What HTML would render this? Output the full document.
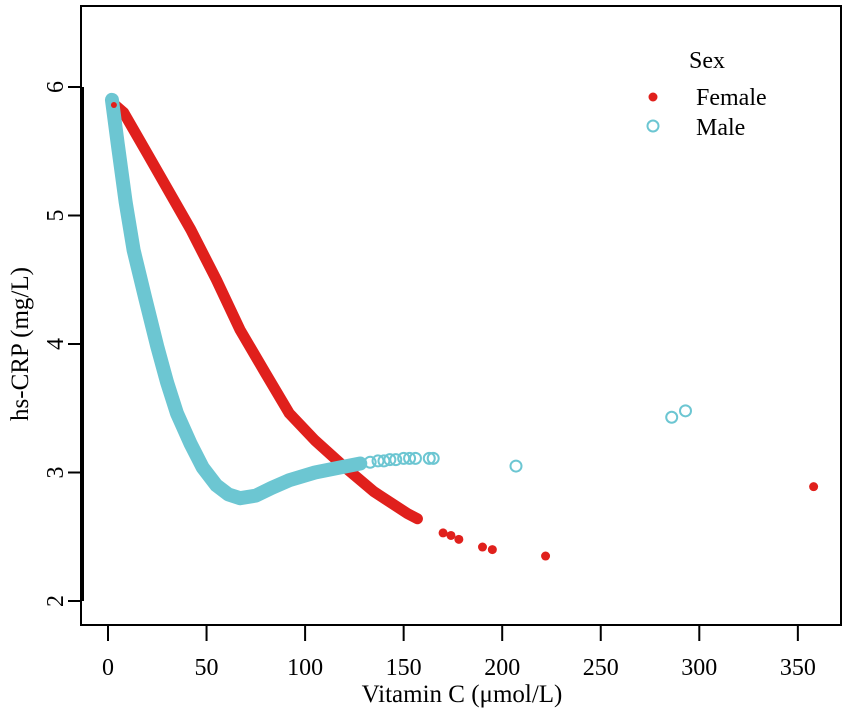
<!DOCTYPE html>
<html><head><meta charset="utf-8"><style>
body{margin:0;background:#fff;}
svg{display:block;font-family:"Liberation Serif",serif;}
</style></head><body>
<svg width="850" height="716" id="c"></svg>
<script>
const femaleDense=[[2,5.88],[8,5.8],[20,5.48],[42,4.89],[55,4.5],[67,4.11],[80,3.77],[92,3.46],[105,3.25],[118,3.07],[135,2.85],[152,2.68],[157,2.64]];
const femaleOut=[[170,2.53],[174,2.51],[178,2.48],[190,2.42],[195,2.40],[222,2.35],[358,2.89]];
const maleDense=[[2,5.9],[5,5.55],[9,5.1],[13,4.73],[19,4.35],[25,3.98],[30,3.7],[35,3.46],[42,3.22],[48,3.04],[55,2.9],[61,2.83],[67,2.8],[75,2.82],[83,2.88],[92,2.94],[105,3.0],[118,3.04],[128,3.07]];
const maleOut=[[133,3.08],[137,3.09],[140,3.09],[143,3.1],[146,3.1],[150,3.11],[153,3.11],[156,3.11],[163,3.11],[165,3.11],[207,3.05],[286,3.43],[293,3.48]];
const xTicks=[0,50,100,150,200,250,300,350];
const yTicks=[2,3,4,5,6];
const svg=document.getElementById('c');const NS='http://www.w3.org/2000/svg';
const X=v=>108+1.971*v, Y=v=>601-128.5*(v-2);
function mk(t,a,p){const e=document.createElementNS(NS,t);for(const k in a)e.setAttribute(k,a[k]);(p||svg).appendChild(e);return e;}
const box=mk('rect',{x:81,y:6,width:760,height:619,fill:'none',stroke:'#000','stroke-width':2});


const ya=mk('line',{x1:82,y1:Y(2),x2:82,y2:Y(6),stroke:'#000','stroke-width':4});


yTicks.forEach(t=>{mk('line',{x1:68,x2:82,y1:Y(t),y2:Y(t),stroke:'#000','stroke-width':2});
const tx=mk('text',{x:0,y:0,'font-size':24,'text-anchor':'middle','dominant-baseline':'central',transform:`translate(56,${Y(t)}) rotate(-90)`});tx.textContent=t;

});
xTicks.forEach(t=>{mk('line',{x1:X(t),x2:X(t),y1:625,y2:641,stroke:'#000','stroke-width':2});
const tx=mk('text',{x:X(t),y:675,'font-size':24,'text-anchor':'middle'});tx.textContent=t;

});
const xt=mk('text',{x:462,y:702,'font-size':25,'text-anchor':'middle'});xt.textContent='Vitamin C (μmol/L)';


const yt=mk('text',{x:0,y:0,'font-size':25,'text-anchor':'middle',transform:'translate(28,344) rotate(-90)'});yt.textContent='hs-CRP (mg/L)';


const C='#6cc6d2',R='#e0201c';
const fp=mk('polyline',{points:femaleDense.map(d=>X(d[0])+','+Y(d[1])).join(' '),fill:'none',stroke:R,'stroke-width':11,'stroke-linejoin':'round','stroke-linecap':'round'});


femaleOut.forEach(d=>{const c=mk('circle',{cx:X(d[0]),cy:Y(d[1]),r:4.5,fill:R});

});
const mp=mk('polyline',{points:maleDense.map(d=>X(d[0])+','+Y(d[1])).join(' '),fill:'none',stroke:C,'stroke-width':14,'stroke-linejoin':'round','stroke-linecap':'round'});


maleOut.forEach(d=>{const c=mk('circle',{cx:X(d[0]),cy:Y(d[1]),r:5.5,fill:'none',stroke:C,'stroke-width':2});

});
const mc=mk('circle',{cx:X(2),cy:Y(5.9),r:5.5,fill:'none',stroke:C,'stroke-width':2});


const fc=mk('circle',{cx:X(3),cy:Y(5.86),r:3,fill:R});


const g=mk('g',{});


const s=mk('text',{x:689,y:68,'font-size':24},g);s.textContent='Sex';
mk('circle',{cx:653,cy:97,r:4.5,fill:R},g);
const f=mk('text',{x:696,y:105,'font-size':24},g);f.textContent='Female';
mk('circle',{cx:653,cy:126,r:5.5,fill:'none',stroke:C,'stroke-width':2},g);
const m=mk('text',{x:696,y:135,'font-size':24},g);m.textContent='Male';
</script>
</body></html>
